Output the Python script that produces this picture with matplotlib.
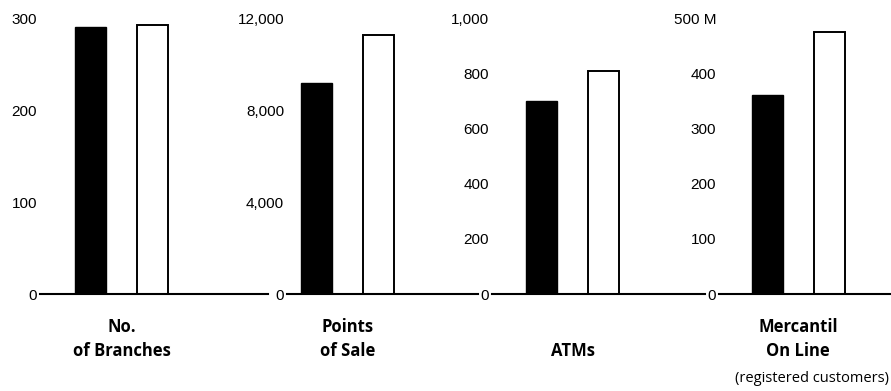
import matplotlib
matplotlib.use("Agg")
import matplotlib.pyplot as plt
from matplotlib.ticker import FuncFormatter

# one panel per indicator: previous year (black) vs current year (white)
labels = ["No.\nof Branches", "Points\nof Sale", "ATMs", "Mercantil\nOn Line"]
note = "(registered customers)"
prev_year = [291, 9200, 700, 362]
curr_year = [294, 11300, 811, 476]
y_max = [300, 12000, 1000, 500]
y_step = [100, 4000, 200, 100]
top_suffix = ["", "", "", " M"]

W, H = 891, 391
# panel frames in pixels: left edge of axis, right edge, xlim left
frames = [(40, 268, -0.815), (287, 478, -0.476), (492, 705, -0.806), (719, 891, -0.78)]
unit = 62.0
y0_px, ytop_px = 294, 19

fig = plt.figure(figsize=(W / 100, H / 100), dpi=100)
tick_font = "Liberation Sans"
label_font = "Open Sans"

for i, (x0, x1, xl) in enumerate(frames):
    ax = fig.add_axes([x0 / W, 1 - y0_px / H, (x1 - x0) / W, (y0_px - ytop_px) / H])
    ax.bar([0], [prev_year[i]], width=0.5, color="black", edgecolor="black", linewidth=1)
    ax.bar([1], [curr_year[i]], width=0.5, color="white", edgecolor="black", linewidth=1.4)
    ax.set_xlim(xl, xl + (x1 - x0) / unit)
    ax.set_ylim(0, y_max[i])
    ax.set_yticks(range(0, y_max[i] + 1, y_step[i]))
    suffix = top_suffix[i]
    top = y_max[i]
    ax.yaxis.set_major_formatter(
        FuncFormatter(lambda v, p, s=suffix, t=top: f"{int(v):,}" + (s if v == t else "")))
    ax.tick_params(axis="y", length=0, pad=2, labelsize=11)
    for t in ax.get_yticklabels():
        t.set_fontfamily(tick_font)
    ax.set_xticks([])
    for s in ["top", "right", "left"]:
        ax.spines[s].set_visible(False)
    ax.spines["bottom"].set_linewidth(1.5)
    ax.patch.set_alpha(0)

    # category label centred under the pair of bars
    cx = (x0 + (0.5 - xl) * unit) / W
    fig.text(cx, 1 - 360 / H, labels[i], ha="center", va="bottom",
             fontsize=12, fontweight="bold", family=label_font, linespacing=1.45)
    if i == 3:
        fig.text(889 / W, 1 - 386 / H, note, ha="right", va="bottom",
                 fontsize=10.5, family=label_font)

fig.savefig("out.png", dpi=100)
